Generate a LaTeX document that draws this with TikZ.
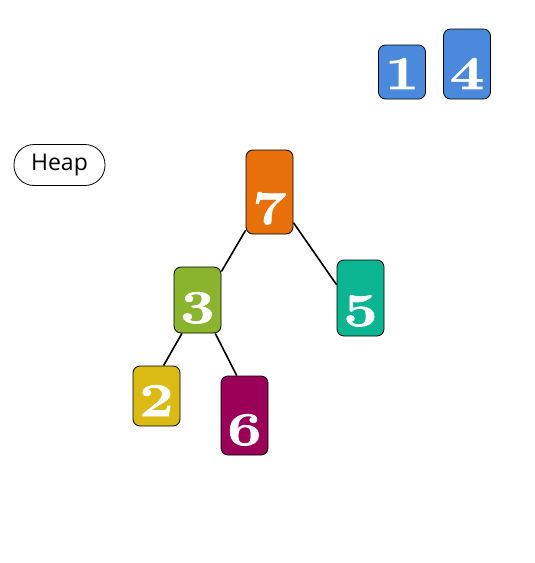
\documentclass[tikz,border=0pt]{standalone}
\usepackage{fontspec}
\newfontfamily\heapfont{Open Sans}
\newfontfamily\keyfont[FakeStretch=1.3,FakeBold=1.5]{Latin Modern Roman}
\usepackage{tikz}

\definecolor{keyblue}{HTML}{4A89DC}
\definecolor{keyorange}{HTML}{E8700A}
\definecolor{keygreen}{HTML}{8AB42E}
\definecolor{keyteal}{HTML}{0BB592}
\definecolor{keyyellow}{HTML}{DBBA14}
\definecolor{keymagenta}{HTML}{9A0057}

\begin{document}
\begin{tikzpicture}[x=1pt, y=-1pt,
	keybox/.style 2 args={draw=black, line width=0.8pt, fill=#1, rounded corners=7pt,
		text=white, inner sep=0pt, minimum width=47pt, text height=#2, text depth=10pt,
		font=\keyfont\bfseries\fontsize{47}{47}\selectfont},
	label/.style={draw=black, line width=0.8pt, rounded corners=20pt, minimum width=91pt,
		minimum height=41pt, font=\heapfont\fontsize{23}{23}\selectfont}]
	\useasboundingbox (0,0) rectangle (535,563);
	\node[label] (heap) at (59.5,165) {Heap};
	\node[keybox={keyblue}{44pt}] (k1) at (402,72) {1};
	\node[keybox={keyblue}{60pt}] (k4) at (467,64) {4};
	\node[keybox={keyorange}{74pt}] (k7) at (269.5,192) {7};
	\node[keybox={keygreen}{56pt}] (k3) at (197.5,300) {3};
	\node[keybox={keyteal}{66pt}] (k5) at (360.5,298) {5};
	\node[keybox={keyyellow}{50pt}] (k2) at (156.5,396) {2};
	\node[keybox={keymagenta}{69pt}] (k6) at (244.5,415.5) {6};
	\draw[line width=1.6pt] (k7.238) -- (k3.50);
	\draw[line width=1.6pt] (k7.308) -- (k5.151);
	\draw[line width=1.6pt] (k3.245) -- (k2.77);
	\draw[line width=1.6pt] (k3.298) -- (k6.101);
\end{tikzpicture}
\end{document}
